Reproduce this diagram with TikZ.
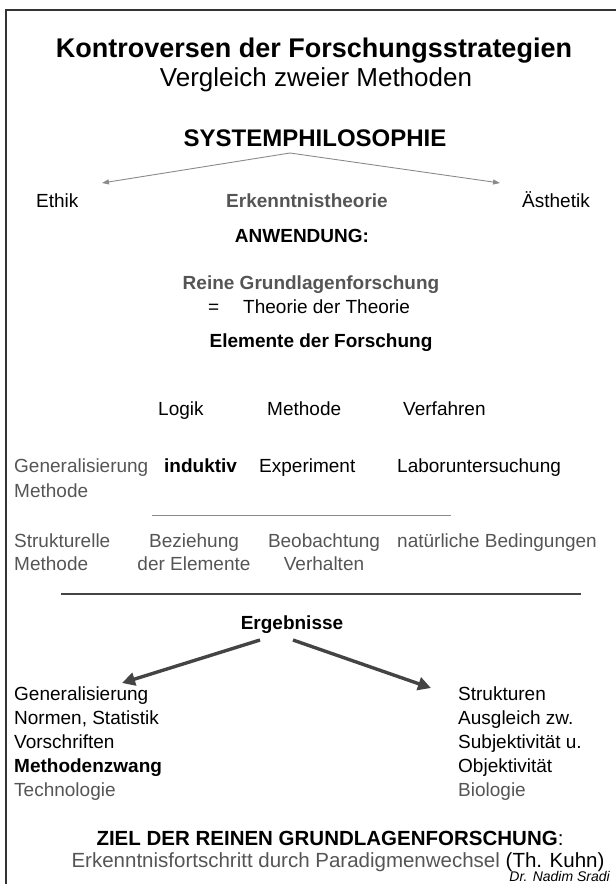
\documentclass[tikz,border=0pt]{standalone}
\usepackage{fontspec}
\setmainfont{Liberation Sans}
\usetikzlibrary{arrows.meta}
\definecolor{txtgray}{HTML}{555555}
\definecolor{linegray}{HTML}{8A8A8A}
\definecolor{arrowgray}{HTML}{444444}
\definecolor{framegray}{HTML}{333333}

\begin{document}
\begin{tikzpicture}[x=1pt,y=-1pt,
  txt/.style={inner sep=0pt,anchor=base west,font=\fontsize{19}{23}\selectfont},
  ctxt/.style={txt,anchor=base},
  grey/.style={text=txtgray},
  thinarrow/.style={linegray,line width=.9pt,-{Triangle[length=7pt,width=5pt]}},
  thickarrow/.style={arrowgray,line width=3.4pt,-{Triangle[length=13pt,width=13pt]}}]
\useasboundingbox (0,0) rectangle (616,884);
\draw[framegray,line width=2pt] (6,884) -- (6,10) -- (616,10);
% heading
\node[ctxt,font=\fontsize{27}{30}\selectfont\bfseries] (title) at (314,57) {Kontroversen der Forschungsstrategien};
\node[ctxt,font=\fontsize{26}{30}\selectfont] (subtitle) at (316,86) {Vergleich zweier Methoden};
\node[ctxt,font=\fontsize{24}{28}\selectfont\bfseries] (sysphil) at (315,146) {SYSTEMPHILOSOPHIE};
\coordinate (sysapex) at (290,153);
\coordinate (ethiktip) at (102,183);
\coordinate (aesthtip) at (500,183);
\draw[thinarrow] (sysapex) -- (ethiktip);
\draw[thinarrow] (sysapex) -- (aesthtip);
\node[txt] (ethik) at (36,207) {Ethik};
\node[ctxt,grey,font=\fontsize{19}{23}\selectfont\bfseries] (erkth) at (307,207) {Erkenntnistheorie};
\node[txt] (aesth) at (522,207) {Ästhetik};
\node[ctxt,font=\fontsize{19}{23}\selectfont\bfseries] (anw) at (302,242) {ANWENDUNG:};
\node[ctxt,grey,font=\fontsize{19}{23}\selectfont\bfseries] (reine) at (311,289) {Reine Grundlagenforschung};
\node[txt] (eq) at (208,313) {=};
\node[txt] (theorie) at (243,313) {Theorie der Theorie};
\node[ctxt,font=\fontsize{19}{23}\selectfont\bfseries] (elem) at (321,347) {Elemente der Forschung};
% elements
\node[txt] (logik) at (158,415) {Logik};
\node[txt] (methode) at (267,415) {Methode};
\node[txt] (verfahren) at (403,415) {Verfahren};
\node[txt,grey] (gen) at (14,472) {Generalisierung};
\node[txt,grey] (genm) at (14,497) {Methode};
\node[txt,font=\fontsize{19}{23}\selectfont\bfseries] (induktiv) at (164,472) {induktiv};
\node[txt] (experiment) at (259,472) {Experiment};
\node[txt] (labor) at (397,472) {Laboruntersuchung};
\coordinate (sepl) at (152,515);
\coordinate (sepr) at (451,515);
\draw[linegray,line width=.9pt] (sepl) -- (sepr);
\node[txt,grey] (struk) at (14,547) {Strukturelle};
\node[txt,grey] (strukm) at (14,570) {Methode};
\node[ctxt,grey] (bez) at (194,547) {Beziehung};
\node[ctxt,grey] (derel) at (194,570) {der Elemente};
\node[ctxt,grey] (beob) at (324,547) {Beobachtung};
\node[ctxt,grey] (verh) at (324,570) {Verhalten};
\node[txt,grey] (natur) at (397,547) {natürliche Bedingungen};
\coordinate (rulel) at (61,594);
\coordinate (ruler) at (581,594);
\draw[arrowgray,line width=1.1pt] (rulel) -- (ruler);
% results
\node[ctxt,font=\fontsize{19}{23}\selectfont\bfseries] (ergeb) at (292,629) {Ergebnisse};
\coordinate (ergl) at (260,640);
\coordinate (ergr) at (293,640);
\coordinate (genltip) at (122,683);
\coordinate (strrtip) at (431,688);
\draw[thickarrow] (ergl) -- (genltip);
\draw[thickarrow] (ergr) -- (strrtip);
\node[txt] (lgen) at (14,700) {Generalisierung};
\node[txt] (lnorm) at (14,724) {Normen, Statistik};
\node[txt] (lvor) at (14,748) {Vorschriften};
\node[txt,font=\fontsize{19}{23}\selectfont\bfseries] (lzwang) at (14,772) {Methodenzwang};
\node[txt,grey] (ltech) at (14,796) {Technologie};
\node[txt] (rstr) at (458,700) {Strukturen};
\node[txt] (raus) at (458,724) {Ausgleich zw.};
\node[txt] (rsub) at (458,748) {Subjektivität u.};
\node[txt] (robj) at (458,772) {Objektivität};
\node[txt,grey] (rbio) at (458,796) {Biologie};
% goal
\node[ctxt,font=\fontsize{20.5}{24}\selectfont] (ziel) at (330,845) {\textbf{ZIEL DER REINEN GRUNDLAGENFORSCHUNG}:};
\node[ctxt,grey,font=\fontsize{20.5}{24}\selectfont] (fort) at (338,867) {Erkenntnisfortschritt durch Paradigmenwechsel \textcolor{black}{(Th. Kuhn)}};
\node[txt,anchor=base east,font=\fontsize{14}{16}\selectfont\itshape] (autor) at (610,881) {Dr. Nadim Sradi};
\end{tikzpicture}
\end{document}
